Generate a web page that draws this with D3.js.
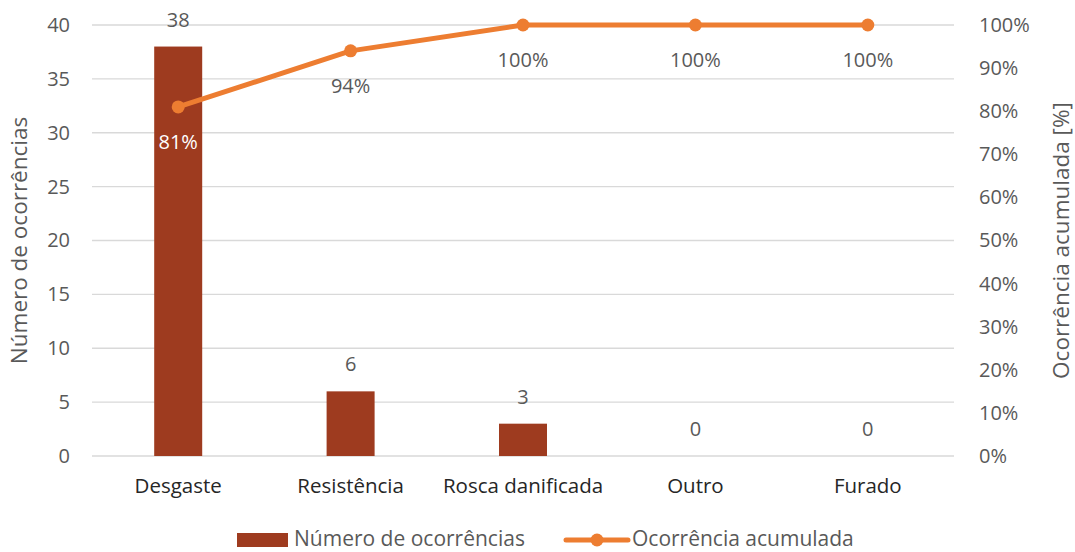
<!DOCTYPE html>
<html>
<head>
<meta charset="utf-8">
<script src="https://cdn.jsdelivr.net/npm/d3@7/dist/d3.min.js"></script>
<style>
  html, body { margin: 0; padding: 0; background: #fff; }
  svg text { font-family: "Open Sans", "Liberation Sans", sans-serif; }
</style>
</head>
<body>
<svg id="chart" width="1075" height="552"></svg>
<script>
// Pareto of failure causes
const categories = ["Desgaste", "Resistência", "Rosca danificada", "Outro", "Furado"];
const occurrences = [38, 6, 3, 0, 0];
const cumulativePct = [81, 94, 100, 100, 100];
const leftTicks = [0, 5, 10, 15, 20, 25, 30, 35, 40];
const rightTicks = [0, 10, 20, 30, 40, 50, 60, 70, 80, 90, 100];

const svg = d3.select("#chart");
const plot = { left: 92, right: 954, top: 25, bottom: 456 };
const barColor = "#9E3B1F";
const lineColor = "#ED7D31";
const tickColor = "#595959";
const FONT = "'Open Sans', sans-serif";
const FS = 20;

const x = d3.scaleBand().domain(categories).range([plot.left, plot.right]);
const yL = d3.scaleLinear().domain([0, 40]).range([plot.bottom, plot.top]);
const yR = d3.scaleLinear().domain([0, 100]).range([plot.bottom, plot.top]);

// gridlines
svg.append("g").selectAll("line").data(leftTicks).join("line")
  .attr("x1", plot.left).attr("x2", plot.right)
  .attr("y1", d => yL(d)).attr("y2", d => yL(d))
  .attr("stroke", "#d9d9d9").attr("stroke-width", 1.3);

// left axis labels
const axL = svg.append("g").attr("transform", `translate(${plot.left - 10},0)`)
  .call(d3.axisLeft(yL).tickValues(leftTicks).tickSize(0).tickPadding(12));
axL.select(".domain").remove();
axL.selectAll("text").attr("font-size", FS).attr("fill", tickColor)
  .style("font-family", FONT);

// right axis labels
const axR = svg.append("g").attr("transform", `translate(${plot.right + 13},0)`)
  .call(d3.axisRight(yR).tickValues(rightTicks).tickSize(0).tickPadding(12).tickFormat(d => d + "%"));
axR.select(".domain").remove();
axR.selectAll("text").attr("font-size", FS).attr("fill", tickColor)
  .style("font-family", FONT);

// category axis
const axX = svg.append("g").attr("transform", `translate(0,${plot.bottom})`)
  .call(d3.axisBottom(x).tickSize(0).tickPadding(22));
axX.select(".domain").remove();
axX.selectAll("text").attr("font-size", 20.5).attr("fill", "#262626")
  .style("font-family", FONT);

// bars
const barW = 48;
svg.append("g").selectAll("rect").data(occurrences).join("rect")
  .attr("x", (d, i) => x(categories[i]) + x.bandwidth() / 2 - barW / 2)
  .attr("y", d => yL(d))
  .attr("width", barW)
  .attr("height", d => yL(0) - yL(d))
  .attr("fill", barColor);

// bar value labels
svg.append("g").selectAll("text").data(occurrences).join("text")
  .attr("x", (d, i) => x(categories[i]) + x.bandwidth() / 2)
  .attr("y", d => yL(d) - 20)
  .attr("text-anchor", "middle")
  .attr("font-size", FS).attr("fill", tickColor)
  .text(d => d);

// cumulative line
const cx = (d, i) => x(categories[i]) + x.bandwidth() / 2;
const line = d3.line().x(cx).y(d => yR(d));
svg.append("path").datum(cumulativePct)
  .attr("d", line).attr("fill", "none")
  .attr("stroke", lineColor).attr("stroke-width", 5).attr("stroke-linejoin", "round");
svg.append("g").selectAll("circle").data(cumulativePct).join("circle")
  .attr("cx", cx).attr("cy", d => yR(d)).attr("r", 6.5)
  .attr("fill", lineColor);

// cumulative labels below points
svg.append("g").selectAll("text").data(cumulativePct).join("text")
  .attr("x", cx)
  .attr("y", d => yR(d) + 42)
  .attr("text-anchor", "middle")
  .attr("font-size", FS)
  .attr("fill", (d, i) => occurrences[i] > 0 && yL(occurrences[i]) < yR(d) + 30 ? "#ffffff" : tickColor)
  .text(d => d + "%");

// axis titles
svg.append("text")
  .attr("transform", `translate(27,${(plot.top + plot.bottom) / 2}) rotate(-90)`)
  .attr("text-anchor", "middle")
  .attr("font-size", 22.5).attr("fill", tickColor)
  .text("Número de ocorrências");
svg.append("text")
  .attr("transform", `translate(1069,${(plot.top + plot.bottom) / 2}) rotate(-90)`)
  .attr("text-anchor", "middle")
  .attr("font-size", 22.5).attr("fill", tickColor)
  .text("Ocorrência acumulada [%]");

// legend
const lg = svg.append("g");
lg.append("rect").attr("x", 237).attr("y", 533).attr("width", 51).attr("height", 14).attr("fill", barColor);
lg.append("text").attr("x", 294).attr("y", 545.5).attr("font-size", 21).attr("fill", tickColor)
  .text("Número de ocorrências");
lg.append("line").attr("x1", 566).attr("x2", 628).attr("y1", 540).attr("y2", 540)
  .attr("stroke", lineColor).attr("stroke-width", 5).attr("stroke-linecap", "round");
lg.append("circle").attr("cx", 597).attr("cy", 540).attr("r", 6.5).attr("fill", lineColor);
lg.append("text").attr("x", 632).attr("y", 545.5).attr("font-size", 21).attr("fill", tickColor)
  .text("Ocorrência acumulada");
</script>
</body>
</html>
